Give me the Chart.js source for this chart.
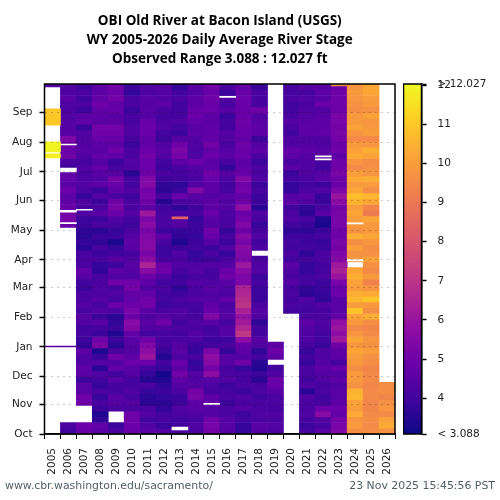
<!DOCTYPE html>
<html>
<head>
<meta charset="utf-8">
<title>OBI Old River at Bacon Island (USGS)</title>
<script src="https://cdn.jsdelivr.net/npm/chart.js@4/dist/chart.umd.min.js"></script>
<style>
    html, body { margin: 0; padding: 0; background: #fff; }
    #wrap { position: relative; width: 500px; height: 500px; overflow: hidden; }
    canvas { position: absolute; top: 0; }
    #main { left: 0; }
    #bar { left: 403px; }
    .foot { position: absolute; top: 479px; font: 10.9px "DejaVu Sans", sans-serif; color: #4f5f68; white-space: nowrap; }
    #foot-l { left: 5px; }
    #foot-r { right: 5px; }
</style>
</head>
<body>
<div id="wrap">
    <canvas id="main" width="500" height="500"></canvas>
    <canvas id="bar" width="97" height="500"></canvas>
    <div class="foot" id="foot-l">www.cbr.washington.edu/sacramento/</div>
    <div class="foot" id="foot-r">23 Nov 2025 15:45:56 PST</div>
</div>
<script>
const n = null;

const titleLines = [
    'OBI Old River at Bacon Island (USGS)',
    'WY 2005-2026 Daily Average River Stage',
    'Observed Range 3.088 : 12.027 ft'
];
const years = ['2005','2006','2007','2008','2009','2010','2011','2012','2013','2014','2015',
               '2016','2017','2018','2019','2020','2021','2022','2023','2024','2025','2026'];
const monthNames = ['Oct','Nov','Dec','Jan','Feb','Mar','Apr','May','Jun','Jul','Aug','Sep'];
const monthDays = [0,31,60,91,122,153,182,213,244,274,305,336];
const barTicks = [3.088,4,5,6,7,8,9,10,11,12,12.027];

const y2005 = [n,n,n,n,n,n,n,n,n,n, n,n,n,n,n,n,n,n,n,n, n,n,n,n,n,n,n,n,n,n,
               n,n,n,n,n,n,n,n,n,n, n,n,n,n,n,n,n,n,n,n, n,n,n,n,n,n,n,n,n,n, n];
const y2006 = [4.4,4.3,4.5,4.3,4.2,4.3,4.4,4.4,4.5,5.3, 4.9,4.8,5.0,4.2,3.9,4.7,4.7,4.5,4.9,4.6,
               4.7,4.8,5.1,5.2,4.9,n,n,n,n,n, n,n,n,n,n,n,n,n,n,n,
               n,n,n,n,n,n,n,n,n,n, n,n,n,n,n,n,n,n,n,4.2, 4.0];
const y2007 = [4.0,4.2,4.0,4.2,3.9,4.5,4.7,3.9,4.3,4.3, 4.4,4.5,4.3,4.1,4.3,4.2,4.3,4.4,4.2,3.8,
               4.3,4.1,4.3,3.9,3.9,3.7,3.6,3.8,3.6,4.2, 4.2,4.2,4.7,4.5,4.0,3.9,4.2,4.2,4.4,4.1,
               4.5,4.3,4.0,4.1,3.9,3.7,4.6,4.3,4.3,4.6, 4.5,3.9,4.5,4.5,5.0,5.0,n,n,n,4.9, 4.8];
const y2008 = [4.6,4.6,4.7,5.0,4.7,4.6,4.5,5.1,5.0,4.8, 4.6,4.5,4.7,4.4,4.7,4.5,4.4,4.6,3.9,4.4,
               3.9,4.2,4.5,3.9,4.2,3.6,3.9,3.7,4.1,3.9, 4.2,3.8,3.7,4.1,4.2,4.3,4.2,4.5,4.1,4.4,
               3.9,4.5,4.1,3.9,5.0,5.3,3.4,3.9,4.4,3.6, 4.3,4.0,3.8,4.2,3.8,4.2,3.9,3.4,3.7,4.7, 4.5];
const y2009 = [5.0,4.9,5.1,4.7,4.8,4.5,4.6,5.1,5.0,4.8, 4.6,5.0,4.6,3.9,4.1,4.4,5.1,4.9,4.6,4.2,
               5.0,5.2,4.9,4.3,4.1,3.8,3.9,3.3,3.8,4.0, 4.5,3.9,4.6,4.3,5.0,4.1,4.3,4.1,4.9,4.2,
               3.6,3.7,3.9,3.4,3.9,3.6,4.2,5.0,4.4,4.7, 4.0,4.5,4.1,4.1,4.5,4.4,4.2,n,n,3.9, 4.2];
const y2010 = [3.9,3.8,4.2,4.2,3.9,4.1,4.1,4.3,4.3,4.1, 3.9,4.2,4.2,4.4,4.3,3.6,4.1,4.0,4.3,3.9,
               4.2,4.2,4.4,4.0,3.9,4.2,4.4,4.6,4.5,4.1, 4.3,4.5,4.4,4.3,5.0,5.1,4.7,4.7,4.9,5.2,
               4.9,5.6,5.4,4.7,4.5,4.4,4.4,4.6,4.9,4.5, 4.4,4.1,4.1,4.3,4.1,4.4,4.2,5.0,5.0,4.9, 4.8];
const y2011 = [4.4,4.3,4.5,4.4,4.5,4.4,4.8,4.9,4.8,4.7, 4.7,4.9,5.1,4.9,4.9,5.0,5.4,5.5,5.1,5.2,
               5.0,4.6,6.1,5.3,5.6,5.2,5.4,5.5,5.5,5.2, 5.7,6.5,5.6,4.9,4.6,4.4,4.7,5.0,5.0,4.5,
               4.3,4.5,4.3,4.0,5.0,5.4,5.7,6.0,4.9,4.0, 3.8,3.5,4.2,3.8,3.6,3.6,4.2,4.4,4.0,4.3, 4.5];
const y2012 = [4.5,4.4,4.4,4.6,4.2,4.1,4.2,4.3,4.0,3.9, 4.3,4.5,4.3,4.0,3.9,4.2,3.9,3.7,3.6,4.1,
               3.5,4.0,4.1,4.2,4.2,3.9,4.6,4.1,3.9,3.9, 4.1,4.8,5.0,4.4,4.0,4.2,4.0,4.0,3.9,4.2,
               4.5,5.0,4.3,4.1,4.1,4.1,3.8,3.5,4.0,3.8, 3.2,3.4,3.7,3.9,3.8,3.6,3.7,4.0,4.1,3.9, 4.4];
const y2013 = [3.8,4.0,4.2,4.0,4.0,4.1,4.3,4.0,3.9,4.4, 5.0,5.3,5.1,4.6,4.2,4.1,4.0,3.7,3.9,4.8,
               4.2,3.7,4.2,4.4,4.4,3.8,3.7,3.4,3.9,4.3, 4.2,4.3,4.1,3.9,4.0,3.7,3.9,4.2,4.0,4.3,
               4.3,4.0,4.2,4.0,4.2,4.4,4.5,4.3,4.8,4.6, 5.1,4.6,4.4,4.2,3.9,3.9,4.3,4.2,4.0,4.0, 4.2];
const y2014 = [4.5,4.4,4.6,4.6,4.8,4.9,4.7,4.5,4.6,4.4, 4.3,4.2,4.3,4.9,4.4,4.3,4.2,4.3,5.4,4.5,
               4.3,4.0,4.1,3.8,3.9,3.9,3.8,3.9,4.0,3.8, 3.9,4.3,4.4,4.1,4.4,4.2,4.2,4.4,4.1,4.0,
               4.1,4.3,4.2,4.4,4.2,3.9,3.8,4.1,3.8,3.9, 4.4,4.3,4.4,5.1,5.2,4.6,4.5,4.3,4.1,4.3, 4.2];
const y2015 = [5.0,4.8,5.0,4.8,4.9,4.6,4.6,4.7,4.7,4.7, 5.1,4.7,4.9,4.5,4.6,5.0,4.8,4.6,4.6,4.4,
               4.6,4.6,4.8,4.5,4.4,5.0,4.8,4.4,3.9,4.2, 3.9,4.4,4.1,4.1,4.3,4.5,4.3,4.4,4.6,4.8,
               5.4,4.5,4.0,4.1,3.9,4.0,5.3,5.7,5.5,5.1, 5.7,4.5,4.2,4.1,4.6,4.7,4.4,4.4,5.0,5.2, 5.1];
const y2016 = [4.2,3.9,4.3,4.2,4.5,3.9,4.1,4.1,4.4,4.3, 4.2,4.4,4.5,4.1,3.7,4.4,4.2,4.0,4.1,4.5,
               4.3,4.4,4.2,4.2,4.2,3.8,4.1,3.9,4.3,3.8, 4.2,4.4,4.8,5.0,4.5,4.3,4.2,4.7,4.2,4.3,
               4.5,4.1,4.4,4.4,3.9,4.2,3.8,4.4,4.5,4.1, 4.2,4.3,3.9,4.1,4.2,3.9,4.2,4.2,4.4,4.5, 4.4];
const y2017 = [4.7,4.8,4.9,4.8,4.8,4.8,5.0,4.9,4.8,4.7, 5.0,4.8,4.9,4.6,4.7,4.8,5.4,5.0,5.1,4.7,
               5.0,5.8,4.8,5.1,5.4,5.0,5.5,5.2,5.6,5.4, 5.3,6.1,5.6,5.3,5.3,6.5,6.6,6.8,7.0,6.4,
               5.9,6.2,6.6,7.1,5.7,4.8,4.6,4.4,5.0,3.8, 4.1,4.1,4.2,3.9,4.3,4.2,4.4,3.9,4.0,3.8, 3.8];
const y2018 = [3.9,4.2,4.1,4.2,5.0,4.4,4.5,4.6,4.6,3.9, 4.4,4.6,4.2,3.9,4.2,4.2,4.3,3.9,4.1,3.9,
               3.9,3.6,4.3,4.1,3.8,4.1,4.3,4.0,4.2,n, 4.1,4.3,4.4,3.9,4.1,3.9,3.9,3.9,4.2,4.4,
               4.3,3.7,4.0,4.0,4.4,4.3,3.7,4.0,3.6,3.5, 3.9,3.6,4.1,4.2,4.0,4.2,4.2,4.3,4.2,4.5, 4.4];
const y2019 = [n,n,n,n,n,n,n,n,n,n, n,n,n,n,n,n,n,n,n,n, n,n,n,n,n,n,n,n,n,n,
               n,n,n,n,n,n,n,n,n,n, n,n,n,n,n,4.6,4.9,4.6,n,4.0, 4.3,4.8,4.8,4.4,4.2,4.2,4.1,4.3,4.2,4.4, 4.3];
const y2020 = [4.2,4.1,4.2,4.0,4.0,4.2,4.4,4.2,4.0,4.3, 4.3,4.7,4.6,4.2,4.5,3.9,4.1,3.8,3.8,4.4,
               4.6,4.0,4.2,4.3,4.0,3.7,3.9,4.1,4.0,4.2, 4.0,4.5,4.3,4.2,4.4,4.1,4.2,4.1,4.2,4.0,
               n,n,n,n,n,n,n,n,n,n, n,n,n,n,n,n,n,n,n,n, n];
const y2021 = [4.4,4.1,4.3,4.2,4.3,4.4,4.5,4.6,4.6,4.3, 4.4,4.6,4.4,4.3,4.3,4.3,4.2,4.0,4.2,4.5,
               4.3,3.7,3.6,4.1,3.9,3.7,3.9,3.9,4.0,3.7, 4.0,3.8,3.8,4.0,4.1,3.7,3.6,4.3,4.1,4.0,
               4.2,4.6,4.4,4.3,4.3,4.1,3.8,4.0,3.8,4.2, 4.2,4.0,4.3,3.6,4.3,4.2,4.2,4.3,4.1,3.9, 4.1];
const y2022 = [4.5,4.6,4.5,4.8,4.3,4.5,4.6,4.6,4.7,4.3, 4.3,4.5,4.5,4.1,4.0,4.4,4.5,3.9,4.3,3.8,
               3.9,4.2,4.5,3.4,3.3,3.9,4.1,3.8,3.9,4.2, 4.2,4.0,4.1,4.2,3.9,3.9,3.8,3.7,4.3,4.1,
               4.2,4.3,4.2,4.0,4.0,3.9,4.3,4.3,4.4,4.6, 4.4,4.3,4.1,4.2,4.0,4.1,4.9,5.6,4.4,4.1, 4.5];
const y2023 = [4.9,5.0,5.0,5.0,5.0,5.2,5.2,5.1,5.2,5.1, 4.9,5.0,4.6,5.0,5.0,5.2,5.0,4.8,5.3,6.0,
               5.6,5.1,5.2,5.2,5.2,5.0,5.0,5.2,5.1,5.3, 5.5,6.1,6.4,6.0,5.2,4.8,4.9,4.5,4.5,4.5,
               4.7,5.8,6.0,5.7,6.1,5.0,4.6,4.6,4.1,4.8, 4.4,4.6,4.3,4.5,4.5,4.6,4.9,4.7,5.1,5.2, 5.4];
const y2024 = [9.8,9.9,9.8,9.7,9.6,9.9,9.9,10.1,9.8,9.5, 9.9,10.1,10.3,9.8,9.5,10.0,10.3,10.0,10.2,10.8,
               10.5,10.0,10.2,10.0,9.9,9.7,10.4,9.6,10.0,9.7, 9.9,n,10.2,10.4,10.1,10.0,10.4,10.6,10.0,10.9,
               10.1,9.9,9.5,9.8,10.2,9.8,10.2,10.0,9.9,9.6, 9.9,9.9,9.7,10.5,10.6,10.1,10.0,10.3,9.8,9.9, 9.6];
const y2025 = [10.2,10.2,10.0,9.9,9.7,10.1,9.8,9.9,10.0,9.5, 9.8,10.4,10.1,9.6,9.7,9.8,10.4,10.0,9.6,10.6,
               10.2,9.4,9.1,10.2,9.9,9.9,10.2,9.8,9.6,9.7, 10.1,9.7,9.5,9.9,9.3,9.8,10.3,10.9,9.9,9.6,
               10.4,9.6,9.4,9.5,9.8,9.7,10.0,9.7,9.6,9.4, 9.5,9.5,9.4,9.5,9.5,9.4,9.4,9.5,9.6,9.5, 9.6];
const y2026 = [n,n,n,n,n,n,n,n,n,n, n,n,n,n,n,n,n,n,n,n, n,n,n,n,n,n,n,n,n,n,
               n,n,n,n,n,n,n,n,n,n, n,n,n,n,n,n,n,n,n,n, n,n,9.6,9.6,9.4,9.7,9.8,9.5,10.1,10.3, 9.7];

// Short runs narrower than a row: year, first day, last day, stage (null = missing)
const shortYear = ['2005','2005','2005','2005','2005','2006','2006','2006','2006','2006','2007','2013','2013','2015','2016','2022','2022','2023','2024','2024'];
const shortFrom = [363,323,295,288.7,91,91,302.3,274,232,220,234,225,4.2,31,352,289.8,286.6,364,219.7,181];
const shortTo   = [366,340,305.4,293,92,92,303.3,278,234,221,235,227,7.3,32,353,290.8,287.7,366,220.7,182.5];
const shortVal  = [4.3,11.0,11.9,11.8,4.6,4.6,n,n,n,n,n,8.4,n,n,n,n,n,9.6,n,n];

const stageMin = 3.088;
const stageMax = 12.027;
const rowDays = 6;
const totalDays = 366;
const plasma = ['#0d0887','#41049d','#6a00a8','#8f0da4','#b12a90','#cc4778','#e16462','#f1844b','#fca636','#fcce25','#f0f921'];
const series = [y2005,y2006,y2007,y2008,y2009,y2010,y2011,y2012,y2013,y2014,y2015,
                y2016,y2017,y2018,y2019,y2020,y2021,y2022,y2023,y2024,y2025,y2026];

const axisFont = { family: "'DejaVu Sans', sans-serif", size: 10.5 };

function hexToRgb(h) {
    return [1, 3, 5].map(i => parseInt(h.substr(i, 2), 16));
}

function stageColor(v) {
    if (v === null) return '#ffffff';
    const t = Math.min(1, Math.max(0, (v - stageMin) / (stageMax - stageMin))) * (plasma.length - 1);
    const i = Math.min(plasma.length - 2, Math.floor(t));
    const a = hexToRgb(plasma[i]);
    const b = hexToRgb(plasma[i + 1]);
    const c = a.map((x, k) => Math.round(x + (b[k] - x) * (t - i)));
    return `rgb(${c[0]},${c[1]},${c[2]})`;
}

// Frame around the plot area
const framePlugin = {
    id: 'frame',
    afterDraw(chart) {
        const { ctx, chartArea: a } = chart;
        ctx.save();
        ctx.strokeStyle = '#000';
        ctx.lineWidth = 1.5;
        ctx.strokeRect(a.left, a.top, a.right - a.left, a.bottom - a.top);
        ctx.restore();
    }
};

function buildDatasets() {
    const sets = [];
    // first dataset is painted last, so the short runs go first
    shortYear.forEach((yr, s) => {
        const data = years.map(y => y === yr ? [shortFrom[s], shortTo[s]] : null);
        sets.push({ data, backgroundColor: stageColor(shortVal[s]) });
    });
    for (let r = 0; r < y2006.length; r++) {
        const lo = totalDays - (r + 1) * rowDays;
        sets.push({
            data: series.map(col => col[r] === null ? null : [lo, lo + rowDays]),
            backgroundColor: series.map(col => stageColor(col[r]))
        });
    }
    return sets;
}

new Chart(document.getElementById('main'), {
    type: 'bar',
    data: { labels: years, datasets: buildDatasets() },
    options: {
        responsive: false,
        animation: false,
        layout: { padding: { right: 105 } },
        datasets: { bar: { grouped: false, barPercentage: 1, categoryPercentage: 1 } },
        plugins: {
            legend: { display: false },
            tooltip: { enabled: false },
            title: {
                display: true,
                text: titleLines,
                fullSize: false,
                color: '#000',
                font: { family: "'Open Sans', sans-serif", size: 13.5, weight: 'bold', lineHeight: 19 / 13.5 },
                padding: { top: 11.5, bottom: 15.5 }
            }
        },
        scales: {
            x: {
                offset: true,
                afterFit: s => { s.height = 66; },
                grid: { drawOnChartArea: false, tickColor: '#000', tickLength: 5, tickWidth: 1 },
                border: { color: '#000', width: 1.5 },
                ticks: { color: '#222', font: axisFont, minRotation: 90, maxRotation: 90, autoSkip: false, padding: 9 }
            },
            y: {
                min: 0,
                max: totalDays,
                afterFit: s => { s.width = 44.5; },
                afterBuildTicks: s => { s.ticks = monthDays.map(v => ({ value: v })); },
                grid: { z: 1, color: 'rgba(0,0,0,0.2)', tickColor: '#000', tickLength: 5, tickWidth: 1.5 },
                // the frame plugin draws the axis line; with z:1 the border would land at x=0
                border: { display: false, dash: [2, 4] },
                ticks: {
                    color: '#222',
                    font: axisFont,
                    autoSkip: false,
                    padding: 7,
                    callback: v => monthNames[monthDays.indexOf(v)]
                }
            }
        }
    },
    plugins: [framePlugin]
});

// Colour bar
new Chart(document.getElementById('bar'), {
    type: 'bar',
    data: {
        labels: ['stage'],
        datasets: [{
            data: [[stageMin, stageMax]],
            barPercentage: 1,
            categoryPercentage: 1,
            backgroundColor(c) {
                const a = c.chart.chartArea;
                if (!a) return plasma[0];
                const g = c.chart.ctx.createLinearGradient(0, a.bottom, 0, a.top);
                plasma.forEach((col, i) => g.addColorStop(i / (plasma.length - 1), col));
                return g;
            }
        }]
    },
    options: {
        responsive: false,
        animation: false,
        layout: { padding: { top: 84, bottom: 66, left: 0.5 } },
        plugins: { legend: { display: false }, tooltip: { enabled: false } },
        scales: {
            x: { display: false },
            y: {
                position: 'right',
                min: stageMin,
                max: stageMax,
                afterFit: s => { s.width = 78.5; },
                afterBuildTicks: s => { s.ticks = barTicks.map(v => ({ value: v })); },
                grid: { drawOnChartArea: false, tickColor: '#000', tickLength: 5, tickWidth: 1.5 },
                border: { color: '#000', width: 1.5 },
                ticks: {
                    color: '#222',
                    font: axisFont,
                    autoSkip: false,
                    padding: 11,
                    callback: v => v === stageMin ? '< 3.088' : v === stageMax ? '> 12.027' : String(v)
                }
            }
        }
    },
    plugins: [framePlugin]
});
</script>
</body>
</html>
